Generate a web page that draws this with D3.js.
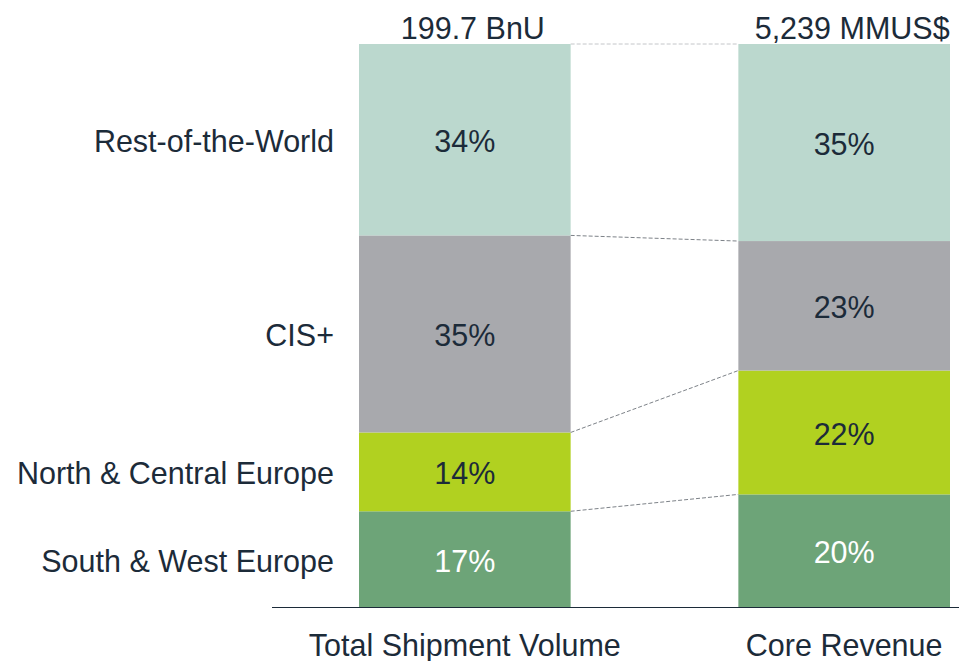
<!DOCTYPE html>
<html>
  <head>
    <script src="https://d3js.org/d3.v7.min.js"></script>
    <style>
      body { margin: 0; background: #fff; }
      text { font-family: "Liberation Sans", Arial, sans-serif; fill: #1c2b39; }
    </style>
  </head>
  <body>
    <div id="chart"></div>
    <script>
      // data
      var columns = ["Total Shipment Volume", "Core Revenue"];
      var totals = ["199.7 BnU", "5,239 MMUS$"];
      var regions = ["South & West Europe", "North & Central Europe", "CIS+", "Rest-of-the-World"];
      var volumeShare = [17, 14, 35, 34];
      var revenueShare = [20, 22, 23, 35];
      var colors = ["#6da478", "#b1d120", "#a8a9ad", "#bbd8ce"];
      var labelColors = ["#ffffff", "#1c2b39", "#1c2b39", "#1c2b39"];

      var W = 959, H = 661;
      var fs = "30.5px";
      var svg = d3.select("#chart").append("svg")
        .attr("width", W).attr("height", H);

      // two bars, 212px wide, 168px gap
      var x = d3.scaleBand().domain(columns).range([359, 950]).paddingInner(168 / 380).paddingOuter(0);
      var barW = x.bandwidth();

      var y = d3.scaleLinear().domain([0, 100]).range([607, 44]);

      var series = [volumeShare, revenueShare];
      var stacks = series.map(function(vals) {
        var acc = 0;
        return vals.map(function(v, i) {
          var s = { region: regions[i], value: v, y0: acc, y1: acc + v, i: i };
          acc += v;
          return s;
        });
      });

      // connector lines
      var left = stacks[0], right = stacks[1];
      var links = left.map(function(d, i) { return { a: d.y1, b: right[i].y1 }; });
      svg.selectAll("line.link").data(links).enter().append("line")
        .attr("x1", x(columns[0]) + barW)
        .attr("x2", x(columns[1]))
        .attr("y1", function(d) { return y(d.a); })
        .attr("y2", function(d) { return y(d.b); })
        .attr("stroke", function(d, i) { return i === links.length - 1 ? "#c4c6c9" : "#7d8288"; })
        .attr("stroke-width", 1)
        .attr("stroke-dasharray", "4,2");

      stacks.forEach(function(st, c) {
        var g = svg.append("g");
        g.selectAll("rect").data(st).enter().append("rect")
          .attr("x", x(columns[c]))
          .attr("width", barW)
          .attr("y", function(d) { return y(d.y1); })
          .attr("height", function(d) { return y(d.y0) - y(d.y1); })
          .attr("fill", function(d) { return colors[d.i]; });
        g.selectAll("text.pct").data(st).enter().append("text")
          .attr("x", x(columns[c]) + barW / 2)
          .attr("y", function(d) { return y((d.y0 + d.y1) / 2); })
          .attr("dy", "0.41em")
          .attr("text-anchor", "middle")
          .attr("font-size", fs)
          .style("fill", function(d) { return labelColors[d.i]; })
          .text(function(d) { return d.value + "%"; });
        svg.append("text")
          .attr("x", x(columns[c]) + barW / 2 + 8)
          .attr("y", 39)
          .attr("text-anchor", "middle")
          .attr("font-size", fs)
          .text(totals[c]);
        svg.append("text")
          .attr("x", x(columns[c]) + barW / 2)
          .attr("y", 656)
          .attr("text-anchor", "middle")
          .attr("font-size", fs)
          .text(columns[c]);
      });

      // region labels
      svg.selectAll("text.region").data(left).enter().append("text")
        .attr("x", 334)
        .attr("y", function(d) { return y((d.y0 + d.y1) / 2); })
        .attr("dy", "0.41em")
        .attr("text-anchor", "end")
        .attr("font-size", fs)
        .text(function(d) { return d.region; });

      // baseline
      svg.append("line")
        .attr("x1", 272).attr("x2", 959)
        .attr("y1", y(0) + 0.5).attr("y2", y(0) + 0.5)
        .attr("stroke", "#1c2b39").attr("stroke-width", 1);
    </script>
  </body>
</html>
